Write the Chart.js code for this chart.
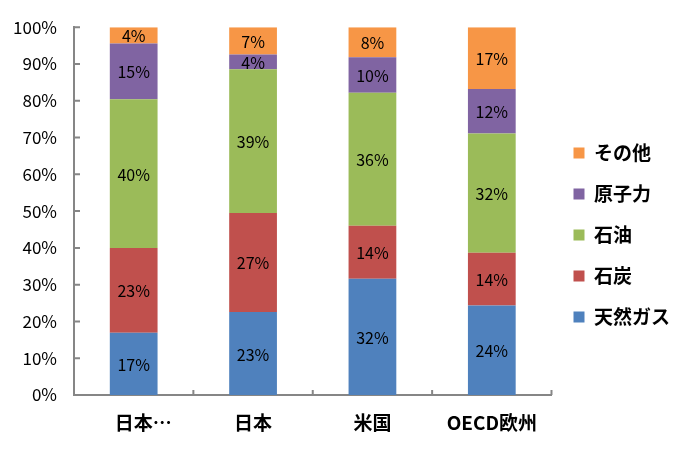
<!DOCTYPE html>
<html>
<head>
<meta charset="utf-8">
<script src="https://cdn.jsdelivr.net/npm/chart.js@4/dist/chart.umd.min.js"></script>
<style>
  body { margin: 0; background: #fff; }
</style>
</head>
<body>
<canvas id="mixChart" width="690" height="452"></canvas>
<script>
// categories (x axis)
const categories = ['\u3000日本…', '日本', '米国', 'OECD欧州'];

// share per source, in percent
const gasValues   = [16.9, 22.6, 31.6, 24.3];
const coalValues  = [23.1, 26.9, 14.4, 14.4];
const oilValues   = [40.4, 39.1, 36.2, 32.4];
const nukeValues  = [15.2, 4.0, 9.6, 12.1];
const otherValues = [4.4, 7.4, 8.2, 16.8];

const seriesNames = ['天然ガス', '石炭', '石油', '原子力', 'その他'];
const seriesColors = ['#4F81BD', '#C0504D', '#9BBB59', '#8064A2', '#F79646'];

// y axis tick values
const yTicks = [0, 10, 20, 30, 40, 50, 60, 70, 80, 90, 100];

const axisColor = '#868686';
const cjkFont = '"Noto Sans CJK JP", "Noto Sans", sans-serif';

// percent labels in the middle of each segment
const segmentLabels = {
  id: 'segmentLabels',
  afterDatasetsDraw(chart) {
    const ctx = chart.ctx;
    ctx.save();
    ctx.fillStyle = '#000';
    ctx.font = '16px ' + cjkFont;
    ctx.textAlign = 'center';
    ctx.textBaseline = 'middle';
    chart.data.datasets.forEach((ds, i) => {
      chart.getDatasetMeta(i).data.forEach((bar, j) => {
        const y = (bar.y + bar.base) / 2;
        ctx.fillText(Math.round(ds.data[j]) + '%', bar.x, y + 1);
      });
    });
    ctx.restore();
  }
};

// small tick marks pointing into the plot, like the original
const innerTicks = {
  id: 'innerTicks',
  afterDraw(chart) {
    const ctx = chart.ctx;
    const area = chart.chartArea;
    const xs = chart.scales.x;
    const ys = chart.scales.y;
    ctx.save();
    ctx.strokeStyle = axisColor;
    ctx.lineWidth = 2;
    ctx.beginPath();
    yTicks.forEach(v => {
      const y = ys.getPixelForValue(v);
      ctx.moveTo(area.left, y);
      ctx.lineTo(area.left + 6, y);
    });
    for (let i = 1; i <= categories.length; i++) {
      let x;
      if (i < categories.length) {
        x = (xs.getPixelForValue(i - 1) + xs.getPixelForValue(i)) / 2;
      } else {
        x = area.right;
      }
      ctx.moveTo(x, area.bottom);
      ctx.lineTo(x, area.bottom - 5);
    }
    ctx.stroke();
    ctx.restore();
  }
};

const allValues = [gasValues, coalValues, oilValues, nukeValues, otherValues];

const ctx = document.getElementById('mixChart');

const mixChart = new Chart(ctx, {
  type: 'bar',
  data: {
    labels: categories,
    datasets: allValues.map((vals, i) => ({
      label: seriesNames[i],
      data: vals,
      backgroundColor: seriesColors[i],
      borderWidth: 0,
      barPercentage: 0.4,
      categoryPercentage: 1.0
    }))
  },
  options: {
    responsive: false,
    animation: false,
    layout: { padding: { top: 27, left: 0, right: 10, bottom: 9 } },
    plugins: {
      tooltip: { enabled: false },
      legend: {
        position: 'right',
        reverse: true,
        labels: {
          boxWidth: 11,
          boxHeight: 11,
          padding: 22,
          color: '#000',
          font: { family: cjkFont, size: 19, weight: 'bold' }
        }
      }
    },
    scales: {
      x: {
        stacked: true,
        grid: { display: false, drawTicks: false },
        border: { display: true, color: axisColor, width: 2 },
        afterFit: scale => { scale.height = 48; },
        ticks: {
          padding: 16,
          color: '#000',
          maxRotation: 0,
          autoSkip: false,
          font: { family: cjkFont, size: 19, weight: 'bold' }
        }
      },
      y: {
        stacked: true,
        min: 0,
        max: 100,
        grid: { display: false, drawTicks: false },
        border: { display: true, color: axisColor, width: 2 },
        afterFit: scale => { scale.width = 74; },
        ticks: {
          stepSize: 10,
          padding: 17,
          color: '#000',
          font: { family: cjkFont, size: 17 },
          callback: v => v + '%'
        }
      }
    }
  },
  plugins: [segmentLabels, innerTicks]
});
</script>
</body>
</html>
